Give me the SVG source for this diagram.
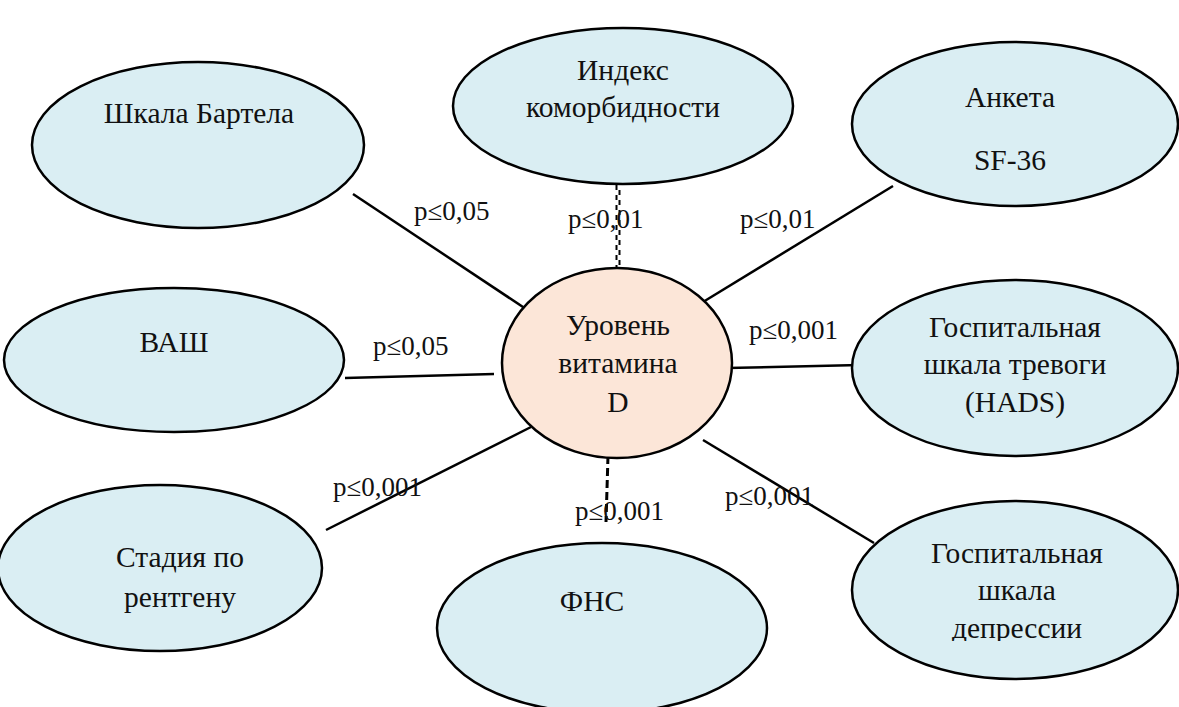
<svg xmlns="http://www.w3.org/2000/svg" width="1179" height="707" viewBox="0 0 1179 707">
<defs>
<style>
.node{fill:#DAEEF3;stroke:#000;stroke-width:2.5}
.center{fill:#FCE6D8;stroke:#000;stroke-width:2.5}
.t{font-family:"Liberation Serif","DejaVu Serif",serif;font-size:29.5px;fill:#111;text-anchor:middle}
.lbl{font-family:"Liberation Serif","DejaVu Serif",serif;font-size:27px;fill:#111}
.c{stroke:#000;stroke-width:2.5;fill:none}
</style>
<clipPath id="clipDep"><rect x="840" y="400" width="339" height="241"/></clipPath>
</defs>
<rect width="1179" height="707" fill="#fff"/>
<g id="connectors">
<line class="c" x1="353" y1="194" x2="532" y2="313"/>
<line x1="616.5" y1="185" x2="616.5" y2="268" stroke="#000" stroke-width="2" stroke-dasharray="5 5"/>
<line x1="619.5" y1="185" x2="619.5" y2="268" stroke="#000" stroke-width="2" stroke-dasharray="5 5" stroke-dashoffset="5"/>
<line class="c" x1="893" y1="186" x2="703" y2="302"/>
<line class="c" x1="345" y1="378" x2="494" y2="374"/>
<line class="c" x1="727" y1="368" x2="860" y2="365"/>
<line class="c" x1="326" y1="530" x2="531" y2="427"/>
<line x1="608" y1="456" x2="606" y2="522" stroke="#000" stroke-width="3" stroke-dasharray="8 4"/>
<line class="c" x1="703" y1="440" x2="874" y2="543"/>
</g>
<g id="n-barthel">
<ellipse class="node" cx="198" cy="145" rx="166" ry="83"/>
<text class="t" x="199" y="123">Шкала Бартела</text>
</g>
<g id="n-index">
<ellipse class="node" cx="623" cy="106" rx="170" ry="78"/>
<text class="t" x="623" y="80">Индекс</text>
<text class="t" x="623" y="117">коморбидности</text>
</g>
<g id="n-sf36">
<ellipse class="node" cx="1015" cy="124" rx="163" ry="82"/>
<text class="t" x="1010" y="107">Анкета</text>
<text class="t" x="1010" y="170">SF-36</text>
</g>
<g id="n-vash">
<ellipse class="node" cx="174" cy="360" rx="170" ry="72"/>
<text class="t" x="174" y="352">ВАШ</text>
</g>
<g id="n-hads">
<ellipse class="node" cx="1015" cy="368" rx="163" ry="88"/>
<text class="t" x="1015" y="337">Госпитальная</text>
<text class="t" x="1015" y="374">шкала тревоги</text>
<text class="t" x="1015" y="412">(HADS)</text>
</g>
<g id="n-stage">
<ellipse class="node" cx="160" cy="568" rx="162" ry="83"/>
<text class="t" x="180" y="567">Стадия по</text>
<text class="t" x="180" y="607">рентгену</text>
</g>
<g id="n-fns">
<ellipse class="node" cx="602" cy="628" rx="165" ry="85"/>
<text class="t" x="592" y="611">ФНС</text>
</g>
<g id="n-dep">
<ellipse class="node" cx="1015" cy="590" rx="163" ry="89"/>
<text class="t" x="1017" y="563">Госпитальная</text>
<text class="t" x="1017" y="600">шкала</text>
<text class="t" x="1017" y="638" clip-path="url(#clipDep)">депрессии</text>
</g>
<g id="n-center">
<ellipse class="center" cx="617" cy="363" rx="115" ry="95"/>
<text class="t" x="618" y="335">Уровень</text>
<text class="t" x="618" y="373">витамина</text>
<text class="t" x="618" y="412">D</text>
</g>
<g id="labels">
<text class="lbl" x="414" y="220">p≤0,05</text>
<text class="lbl" x="568" y="228">p≤0,01</text>
<text class="lbl" x="740" y="228">p≤0,01</text>
<text class="lbl" x="373" y="355">p≤0,05</text>
<text class="lbl" x="749" y="339">p≤0,001</text>
<text class="lbl" x="333" y="496">p≤0,001</text>
<text class="lbl" x="575" y="520">p≤0,001</text>
<text class="lbl" x="725" y="505">p≤0,001</text>
</g>
</svg>
